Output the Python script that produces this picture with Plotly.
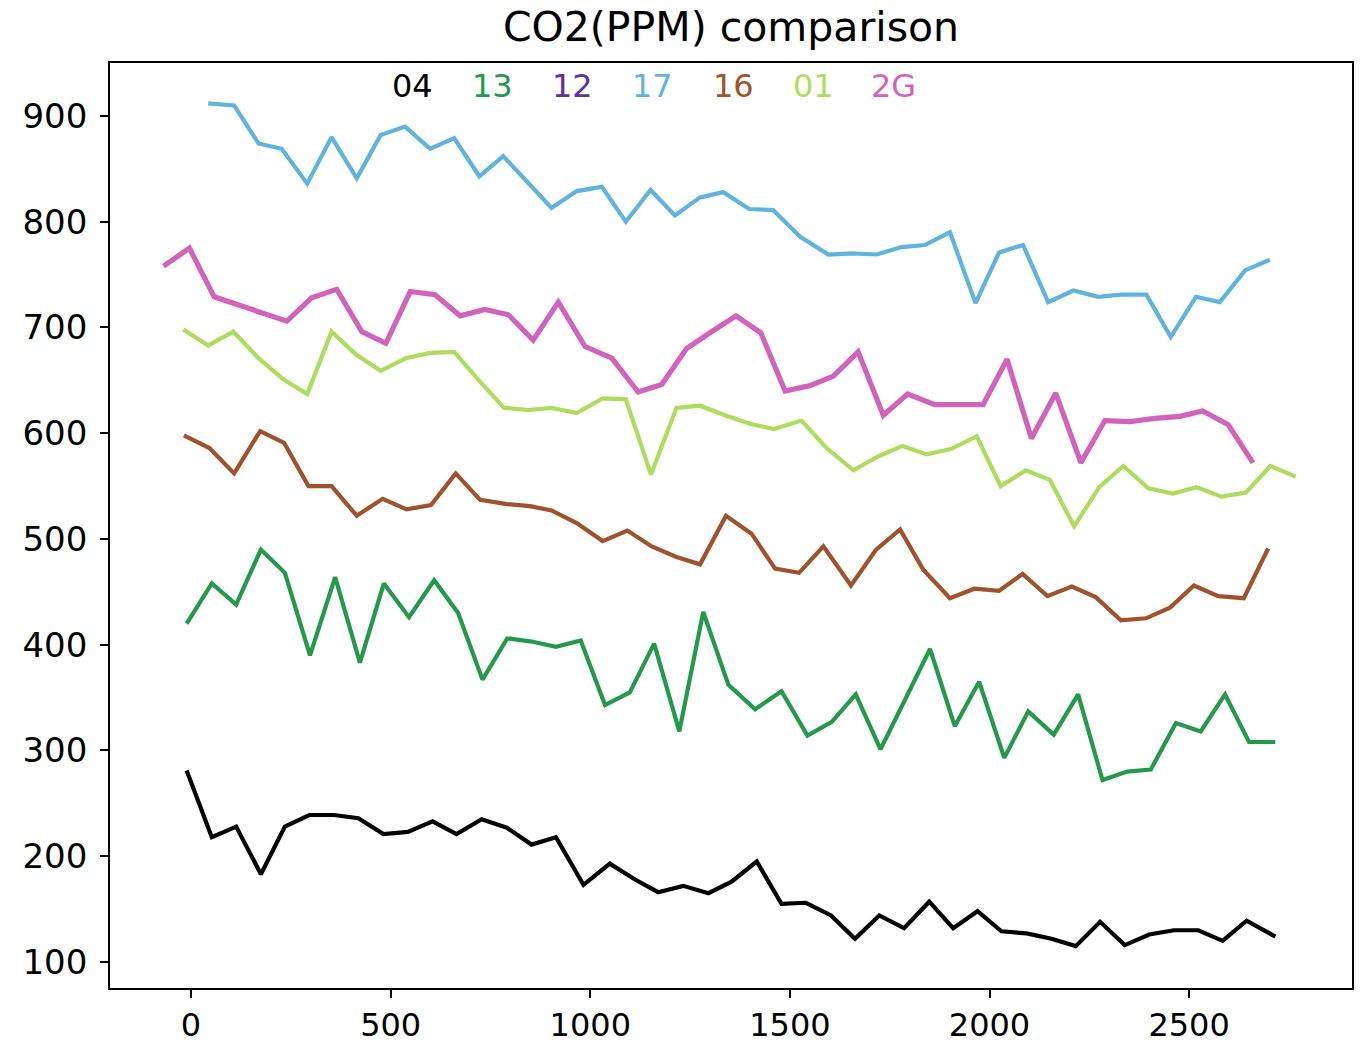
import plotly.graph_objects as go

labels = ["04", "13", "12", "17", "16", "01", "2G"]
colors = ["#000000", "#239a4b", "#5b32a0", "#5fb3dc", "#a0522d", "#aedc5c", "#d263bc"]

x_04 = [-11, 52, 113, 175, 235, 296, 358, 419, 482, 543, 605, 665, 728, 791, 853, 914, 983, 1049, 1112, 1170, 1233, 1296, 1354, 1417, 1479, 1540, 1603, 1663, 1724, 1786, 1849, 1909, 1970, 2030, 2093, 2155, 2216, 2277, 2339, 2400, 2462, 2523, 2584, 2644, 2716]
y_04 = [281, 218, 228, 183, 228, 239, 239, 236, 221, 223, 233, 221, 235, 227, 211, 218, 173, 193, 178, 166, 172, 165, 176, 195, 155, 156, 144, 122, 144, 132, 157, 132, 148, 129, 127, 122, 115, 138, 116, 126, 130, 130, 120, 139, 124]

x_13 = [-11, 52, 113, 175, 235, 298, 361, 423, 483, 546, 609, 669, 730, 792, 853, 914, 976, 1037, 1099, 1160, 1223, 1283, 1346, 1413, 1479, 1544, 1605, 1665, 1727, 1789, 1851, 1913, 1974, 2037, 2097, 2161, 2222, 2283, 2345, 2404, 2467, 2529, 2590, 2650, 2716]
y_13 = [420, 458, 438, 490, 468, 390, 464, 383, 458, 426, 461, 430, 367, 406, 403, 398, 404, 343, 355, 401, 318, 431, 362, 339, 356, 314, 327, 353, 301, 348, 396, 323, 365, 293, 337, 315, 353, 272, 280, 282, 326, 318, 353, 308, 308]

x_12 = []
y_12 = []

x_17 = [43, 108, 169, 227, 291, 352, 415, 475, 536, 599, 659, 722, 782, 843, 903, 966, 1029, 1089, 1151, 1212, 1275, 1333, 1398, 1458, 1525, 1596, 1655, 1717, 1780, 1838, 1901, 1965, 2024, 2084, 2147, 2210, 2272, 2331, 2393, 2454, 2517, 2577, 2640, 2702]
y_17 = [912, 910, 874, 869, 836, 880, 841, 882, 890, 869, 879, 843, 862, 837, 813, 829, 833, 800, 830, 806, 823, 828, 812, 811, 786, 769, 770, 769, 776, 778, 790, 723, 771, 778, 724, 735, 729, 731, 731, 691, 729, 724, 754, 764]

x_16 = [-18, 46, 108, 173, 233, 294, 352, 415, 480, 540, 601, 663, 724, 791, 849, 903, 966, 1031, 1093, 1154, 1216, 1275, 1340, 1404, 1463, 1523, 1584, 1653, 1716, 1776, 1834, 1901, 1962, 2024, 2083, 2145, 2206, 2266, 2329, 2392, 2452, 2512, 2573, 2637, 2698]
y_16 = [598, 586, 562, 602, 591, 550, 550, 522, 538, 528, 532, 562, 537, 533, 531, 527, 515, 498, 508, 493, 483, 476, 522, 505, 472, 468, 493, 456, 490, 509, 471, 444, 453, 451, 467, 446, 455, 445, 423, 425, 435, 456, 446, 444, 491]

x_01 = [-19, 43, 106, 169, 231, 291, 352, 415, 475, 538, 599, 659, 721, 784, 845, 903, 966, 1031, 1089, 1152, 1216, 1275, 1337, 1400, 1460, 1529, 1592, 1659, 1721, 1782, 1843, 1903, 1968, 2028, 2091, 2151, 2212, 2275, 2335, 2398, 2459, 2519, 2581, 2642, 2704, 2767]
y_01 = [698, 683, 696, 671, 651, 637, 696, 674, 659, 671, 676, 677, 650, 624, 622, 624, 619, 633, 632, 561, 624, 626, 617, 609, 604, 612, 586, 565, 578, 588, 580, 585, 597, 550, 565, 556, 512, 549, 569, 548, 543, 549, 540, 544, 569, 559]

x_2G = [-69, -4, 58, 118, 179, 240, 302, 365, 428, 488, 549, 611, 674, 736, 795, 857, 920, 987, 1054, 1120, 1179, 1241, 1300, 1365, 1427, 1488, 1550, 1609, 1671, 1734, 1795, 1863, 1922, 1984, 2044, 2105, 2166, 2229, 2289, 2352, 2414, 2477, 2534, 2598, 2660]
y_2G = [758, 775, 729, 721, 713, 706, 728, 736, 696, 685, 734, 731, 711, 717, 712, 688, 724, 682, 671, 639, 646, 680, 695, 711, 695, 640, 645, 654, 677, 617, 637, 627, 627, 627, 670, 595, 638, 572, 612, 611, 614, 616, 621, 608, 572]

x_ticks = [0, 500, 1000, 1500, 2000, 2500]
y_ticks = [100, 200, 300, 400, 500, 600, 700, 800, 900]

series = [(x_04, y_04), (x_13, y_13), (x_12, y_12), (x_17, y_17), (x_16, y_16), (x_01, y_01), (x_2G, y_2G)]
widths = [4.2, 4.2, 4.2, 4.2, 4.2, 4.2, 5.2]

FONT = "DejaVu Sans"
fig = go.Figure()
for (xs, ys), lab, col, w in zip(series, labels, colors, widths):
    fig.add_trace(go.Scatter(x=xs, y=ys, mode="lines", name=lab,
                             line=dict(color=col, width=w), showlegend=False))

# legend as coloured text (matplotlib-style, no handles)
L, R = 110, 1352
for i, (lab, col) in enumerate(zip(labels, colors)):
    cx = 412 + 80.3 * i
    fig.add_annotation(x=(cx - L) / (R - L), y=(988 - 86) / 925, xref="paper", yref="paper",
                       text=lab, showarrow=False, xanchor="center", yanchor="middle",
                       font=dict(family=FONT, size=32, color=col))

fig.update_layout(
    width=1364, height=1045,
    margin=dict(l=110, r=12, t=63, b=57),
    plot_bgcolor="white", paper_bgcolor="white",
    font=dict(family=FONT, color="#000000", size=30),
    title=dict(text="CO2(PPM) comparison", x=(110 + 1352) / 2 / 1364, xanchor="center",
               y=1 - 27 / 1045, yanchor="middle", yref="container",
               font=dict(family=FONT, size=41, color="#000000")),
)
axis_common = dict(showline=True, mirror=True, linecolor="#000000", linewidth=1.8,
                   ticks="outside", ticklen=8, tickwidth=1.8, tickcolor="#000000",
                   showgrid=False, zeroline=False, automargin=False)
fig.update_xaxes(range=[-203, 2908], tickvals=x_ticks, ticklabelstandoff=0,
                 tickfont=dict(family=FONT, size=32, color="#000000"), **axis_common)
fig.update_yaxes(range=[75.4, 950.1], tickvals=y_ticks, ticklabelstandoff=6,
                 tickfont=dict(family=FONT, size=34, color="#000000"), **axis_common)

fig.write_html("out.html")
